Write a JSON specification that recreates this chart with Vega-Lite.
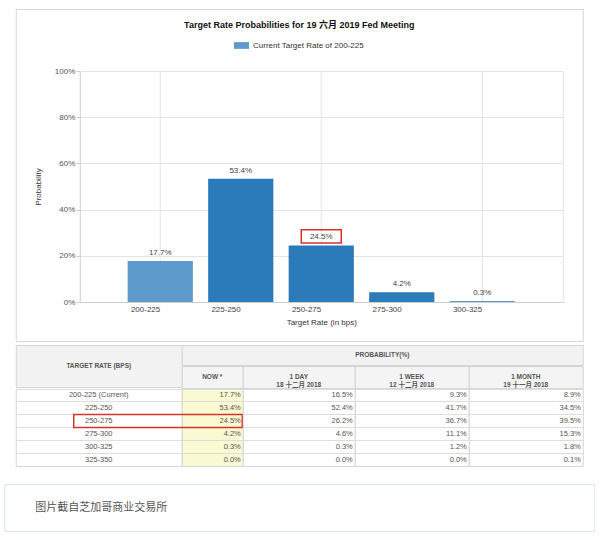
{
  "$schema": "https://vega.github.io/schema/vega-lite/v6.json",
  "padding": {"left": 3, "top": 8, "right": 0, "bottom": 0},
  "background": "white",
  "config": {
    "font": "Liberation Sans, Noto Sans CJK SC",
    "view": {"stroke": null},
    "title": {"font": "Liberation Sans, Noto Sans CJK SC"}
  },
  "datasets": {
    "rates": [
      {"rate": "200-225", "label": "200-225 (Current)", "series": "Current Target Rate of 200-225", "now": 0.177, "day1": 0.165, "week1": 0.093, "month1": 0.089},
      {"rate": "225-250", "label": "225-250", "series": "Target Rate", "now": 0.534, "day1": 0.524, "week1": 0.417, "month1": 0.345},
      {"rate": "250-275", "label": "250-275", "series": "Target Rate", "now": 0.245, "day1": 0.262, "week1": 0.367, "month1": 0.395},
      {"rate": "275-300", "label": "275-300", "series": "Target Rate", "now": 0.042, "day1": 0.046, "week1": 0.111, "month1": 0.153},
      {"rate": "300-325", "label": "300-325", "series": "Target Rate", "now": 0.003, "day1": 0.003, "week1": 0.012, "month1": 0.018},
      {"rate": "325-350", "label": "325-350", "series": "Target Rate", "now": 0.0, "day1": 0.0, "week1": 0.0, "month1": 0.001}
    ],
    "headers": [
      {"id": "rate", "text": "TARGET RATE (BPS)"},
      {"id": "prob", "text": "PROBABILITY(%)"},
      {"id": "now", "text": "NOW *"},
      {"id": "day1", "text": "1 DAY\n18 十二月 2018"},
      {"id": "week1", "text": "1 WEEK\n12 十二月 2018"},
      {"id": "month1", "text": "1 MONTH\n19 十一月 2018"}
    ],
    "caption": [{"text": "图片截自芝加哥商业交易所"}]
  },
  "center": true,
  "spacing": 16,
  "vconcat": [
    {
      "spacing": 2,
      "vconcat": [
        {
          "width": 567,
          "height": 332,
          "view": {"stroke": "#d6d6d6", "fill": "white"},
          "title": {"text": "Target Rate Probabilities for 19 六月 2019 Fed Meeting", "offset": -21, "fontSize": 9, "fontWeight": "bold", "color": "#111", "anchor": "middle", "frame": "group"},
          "data": {"name": "rates"},
          "transform": [{"filter": "datum.now > 0"}],
          "layer": [
            {
              "transform": [{"filter": {"field": "rate", "oneOf": ["200-225", "250-275", "300-325"]}}],
              "mark": {"type": "rule", "color": "#e3e3e3", "strokeWidth": 1},
              "encoding": {
                "x": {"field": "rate", "type": "nominal", "scale": {"domain": ["200-225", "225-250", "250-275", "275-300", "300-325"], "range": [64, 547], "paddingInner": 0.19, "paddingOuter": 0.595}},
                "y": {"datum": 0, "type": "quantitative", "scale": {"domain": [0, 1], "range": [293, 62], "nice": false}, "axis": {"orient": "right", "offset": -20, "labels": false, "ticks": false, "grid": false, "title": null, "domainColor": "#e3e3e3"}},
                "y2": {"datum": 1}
              }
            },
            {
              "mark": {"type": "bar"},
              "encoding": {
                "x": {"field": "rate", "type": "nominal", "scale": {"domain": ["200-225", "225-250", "250-275", "275-300", "300-325"], "range": [64, 547], "paddingInner": 0.19, "paddingOuter": 0.595},
                  "axis": {"orient": "bottom", "offset": -39, "title": "Target Rate (in bps)", "labelAngle": 0, "ticks": false, "grid": false, "domainColor": "#cccccc", "labelFontSize": 8, "labelColor": "#444", "labelPadding": 7, "titleFontSize": 8, "titleFontWeight": "normal", "titleColor": "#333", "titlePadding": 5}},
                "y": {"field": "now", "type": "quantitative", "scale": {"domain": [0, 1], "range": [293, 62], "nice": false},
                  "axis": {"orient": "left", "offset": -64, "format": ".0%", "values": [0, 0.2, 0.4, 0.6, 0.8, 1], "title": "Probability", "grid": true, "gridColor": "#e3e3e3", "domainColor": "#cccccc", "tickColor": "#cccccc", "tickSize": 4, "labelPadding": 1, "labelFontSize": 8, "labelColor": "#555", "titleFontSize": 8, "titleFontWeight": "normal", "titleColor": "#333", "titlePadding": 12}},
                "fill": {"field": "series", "type": "nominal", "scale": {"domain": ["Current Target Rate of 200-225", "Target Rate"], "range": ["#5d9bcd", "#2b7bba"]},
                  "legend": {"values": ["Current Target Rate of 200-225"], "orient": "none", "legendX": 230, "legendY": 29, "title": null, "symbolType": "M-1,-0.45H1V0.45H-1Z", "symbolSize": 225, "symbolStrokeWidth": 0, "labelFontSize": 8, "labelColor": "#333", "labelOffset": 4}}
              }
            },
            {
              "mark": {"type": "text", "baseline": "bottom", "dy": -4, "fontSize": 8, "color": "#444"},
              "encoding": {
                "x": {"field": "rate", "type": "nominal"},
                "y": {"field": "now", "type": "quantitative", "axis": null},
                "text": {"field": "now", "type": "quantitative", "format": ".1%"}
              }
            },
            {
              "transform": [{"filter": "datum.rate === '250-275'"}],
              "mark": {"type": "point", "shape": "M-1,-0.33H1V0.33H-1Z", "size": 1600, "filled": false, "stroke": "#d8322c", "strokeWidth": 1.5, "opacity": 1, "yOffset": -9},
              "encoding": {
                "x": {"field": "rate", "type": "nominal"},
                "y": {"field": "now", "type": "quantitative", "axis": null}
              }
            }
          ],
          "resolve": {"axis": {"y": "independent"}}
        },
        {
          "spacing": -1,
          "vconcat": [
            {
              "spacing": 0,
              "bounds": "flush",
              "hconcat": [
                {
                  "width": 166, "height": 42,
                  "view": {"stroke": "#d5d5d5", "fill": "#f2f2f2"},
                  "data": {"name": "headers"},
                  "transform": [{"filter": "datum.id === 'rate'"}],
                  "mark": {"type": "text", "fontSize": 6.5, "fontWeight": "bold", "color": "#555"},
                  "encoding": {"text": {"field": "text"}}
                },
                {
                  "spacing": -1,
                  "vconcat": [
                    {
                      "width": 401, "height": 20,
                      "view": {"stroke": "#d5d5d5", "fill": "#f2f2f2"},
                      "data": {"name": "headers"},
                      "transform": [{"filter": "datum.id === 'prob'"}],
                      "mark": {"type": "text", "fontSize": 6.5, "fontWeight": "bold", "color": "#555"},
                      "encoding": {"text": {"field": "text"}}
                    },
                    {
                      "spacing": 0,
                      "bounds": "flush",
                      "hconcat": [
                        {
                          "width": 61, "height": 22,
                          "view": {"stroke": "#d5d5d5", "fill": "#f4f4f4"},
                          "data": {"name": "headers"},
                          "transform": [{"filter": "datum.id === 'now'"}],
                          "mark": {"type": "text", "fontSize": 6.5, "fontWeight": "bold", "color": "#555", "lineBreak": "\n", "lineHeight": 8},
                          "encoding": {"text": {"field": "text"}}
                        },
                        {
                          "width": 112, "height": 22,
                          "view": {"stroke": "#d5d5d5", "fill": "#f4f4f4"},
                          "data": {"name": "headers"},
                          "transform": [{"filter": "datum.id === 'day1'"}],
                          "mark": {"type": "text", "fontSize": 6.5, "fontWeight": "bold", "color": "#555", "lineBreak": "\n", "lineHeight": 8},
                          "encoding": {"text": {"field": "text"}}
                        },
                        {
                          "width": 114, "height": 22,
                          "view": {"stroke": "#d5d5d5", "fill": "#f4f4f4"},
                          "data": {"name": "headers"},
                          "transform": [{"filter": "datum.id === 'week1'"}],
                          "mark": {"type": "text", "fontSize": 6.5, "fontWeight": "bold", "color": "#555", "lineBreak": "\n", "lineHeight": 8},
                          "encoding": {"text": {"field": "text"}}
                        },
                        {
                          "width": 114, "height": 22,
                          "view": {"stroke": "#d5d5d5", "fill": "#f4f4f4"},
                          "data": {"name": "headers"},
                          "transform": [{"filter": "datum.id === 'month1'"}],
                          "mark": {"type": "text", "fontSize": 6.5, "fontWeight": "bold", "color": "#555", "lineBreak": "\n", "lineHeight": 8},
                          "encoding": {"text": {"field": "text"}}
                        }
                      ]
                    }
                  ]
                }
              ]
            },
            {
              "spacing": 0,
              "bounds": "flush",
              "hconcat": [
                {
                  "width": 166, "height": 77,
                  "view": {"stroke": "#d5d5d5", "fill": "white"},
                  "data": {"name": "rates"},
                  "mark": {"type": "text", "fontSize": 7.5, "color": "#555"},
                  "encoding": {
                    "y": {"field": "label", "type": "nominal", "sort": null, "scale": {"type": "band", "paddingInner": 0, "paddingOuter": 0}, "axis": {"labels": false, "ticks": false, "domain": false, "title": null, "grid": true, "bandPosition": 0, "gridColor": "#dddddd"}},
                    "text": {"field": "label"}
                  }
                },
                {
                  "width": 61, "height": 77,
                  "view": {"stroke": "#d5d5d5", "fill": "#f9f9d2"},
                  "data": {"name": "rates"},
                  "layer": [
                    {
                      "mark": {"type": "text", "fontSize": 7.5, "color": "#555", "align": "right", "dx": -2},
                      "encoding": {
                        "y": {"field": "label", "type": "nominal", "sort": null, "scale": {"type": "band", "paddingInner": 0, "paddingOuter": 0}, "axis": {"labels": false, "ticks": false, "domain": false, "title": null, "grid": true, "bandPosition": 0, "gridColor": "#dddddd"}},
                        "x": {"value": "width"},
                        "text": {"field": "now", "type": "quantitative", "format": ".1%"}
                      }
                    },
                    {
                      "transform": [{"filter": "datum.rate === '250-275'"}],
                      "mark": {"type": "point", "shape": "M-1,-0.0602H0.5602V0.0602H-1Z", "size": 46656, "filled": false, "stroke": "#d8322c", "strokeWidth": 1.5, "opacity": 1},
                      "encoding": {
                        "y": {"field": "label", "type": "nominal", "sort": null},
                        "x": {"value": 0}
                      }
                    }
                  ]
                },
                {
                  "width": 112, "height": 77,
                  "view": {"stroke": "#d5d5d5", "fill": "white"},
                  "data": {"name": "rates"},
                  "mark": {"type": "text", "fontSize": 7.5, "color": "#555", "align": "right", "dx": -2},
                  "encoding": {
                    "y": {"field": "label", "type": "nominal", "sort": null, "scale": {"type": "band", "paddingInner": 0, "paddingOuter": 0}, "axis": {"labels": false, "ticks": false, "domain": false, "title": null, "grid": true, "bandPosition": 0, "gridColor": "#dddddd"}},
                    "x": {"value": "width"},
                    "text": {"field": "day1", "type": "quantitative", "format": ".1%"}
                  }
                },
                {
                  "width": 114, "height": 77,
                  "view": {"stroke": "#d5d5d5", "fill": "white"},
                  "data": {"name": "rates"},
                  "mark": {"type": "text", "fontSize": 7.5, "color": "#555", "align": "right", "dx": -2},
                  "encoding": {
                    "y": {"field": "label", "type": "nominal", "sort": null, "scale": {"type": "band", "paddingInner": 0, "paddingOuter": 0}, "axis": {"labels": false, "ticks": false, "domain": false, "title": null, "grid": true, "bandPosition": 0, "gridColor": "#dddddd"}},
                    "x": {"value": "width"},
                    "text": {"field": "week1", "type": "quantitative", "format": ".1%"}
                  }
                },
                {
                  "width": 114, "height": 77,
                  "view": {"stroke": "#d5d5d5", "fill": "white"},
                  "data": {"name": "rates"},
                  "mark": {"type": "text", "fontSize": 7.5, "color": "#555", "align": "right", "dx": -2},
                  "encoding": {
                    "y": {"field": "label", "type": "nominal", "sort": null, "scale": {"type": "band", "paddingInner": 0, "paddingOuter": 0}, "axis": {"labels": false, "ticks": false, "domain": false, "title": null, "grid": true, "bandPosition": 0, "gridColor": "#dddddd"}},
                    "x": {"value": "width"},
                    "text": {"field": "month1", "type": "quantitative", "format": ".1%"}
                  }
                }
              ]
            }
          ]
        }
      ]
    },
    {
      "width": 590, "height": 47,
      "view": {"stroke": "#dbe3ec", "fill": "white"},
      "data": {"name": "caption"},
      "mark": {"type": "text", "align": "left", "dx": 31, "fontSize": 11, "color": "#555"},
      "encoding": {
        "x": {"field": "text", "type": "nominal", "axis": null, "scale": {"type": "point", "padding": 0, "align": 0}},
        "text": {"field": "text"}
      }
    }
  ]
}
